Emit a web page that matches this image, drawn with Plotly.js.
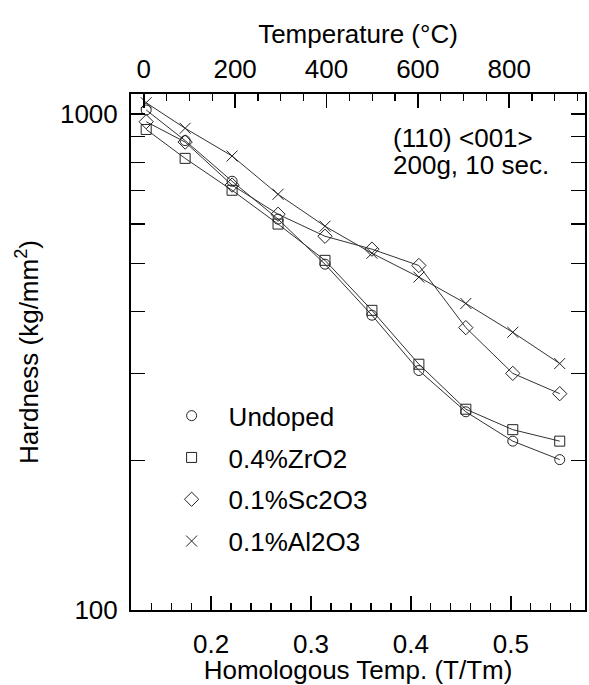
<!DOCTYPE html>
<html>
<head>
<meta charset="utf-8">
<script src="https://cdn.plot.ly/plotly-3.0.1.min.js"></script>
<style>html,body{margin:0;padding:0;background:#fff;}#chart{width:589px;height:685px;}</style>
</head>
<body>
<div id="chart"></div>
<script>
// Homologous temperature (T/Tm) of each measurement
const homologousTemp = [0.135, 0.174, 0.221, 0.267, 0.314, 0.361, 0.408, 0.455, 0.502, 0.549];
// Hardness (kg/mm^2)
const undoped = [1019, 884, 732, 614, 498, 393, 304, 251, 219, 201];
const zro2    = [931, 814, 702, 600, 507, 402, 313, 254, 231, 219];
const sc2o3   = [965, 878, 719, 628, 567, 534, 495, 371, 300, 273];
const al2o3   = [1054, 936, 823, 689, 594, 524, 469, 415, 363, 314];
const seriesNames = ["Undoped", "0.4%ZrO2", "0.1%Sc2O3", "0.1%Al2O3"];
// Axis ticks
const topTempTicks = [0, 200, 400, 600, 800];
const yMajorTicks = [100, 1000];
const yMinorTicks = [200, 300, 400, 500, 600, 700, 800, 900];

const FONT = "Liberation Sans, Arial, Helvetica, sans-serif";
const seriesData = [undoped, zro2, sc2o3, al2o3];
const symbols = ["circle-open", "square-open", "diamond-open", "x-thin-open"];
const sizes = [10, 10, 11, 11];

const traces = [];
// connecting lines (not in legend)
seriesData.forEach((ys, i) => {
  traces.push({
    type: "scatter", mode: "lines", x: homologousTemp, y: ys,
    line: {color: "#333", width: 1}, showlegend: false, hoverinfo: "skip"
  });
});
// markers (in legend)
seriesData.forEach((ys, i) => {
  traces.push({
    type: "scatter", mode: "markers", name: seriesNames[i], legendgroup: "g" + i,
    x: homologousTemp, y: ys,
    marker: {symbol: symbols[i], size: sizes[i], color: "#222", line: {color: "#222", width: 1}},
    cliponaxis: false
  });
});
// empty trace to attach the top temperature axis
traces.push({type: "scatter", x: [], y: [], xaxis: "x2", yaxis: "y", showlegend: false, hoverinfo: "skip"});

const layout = {
  width: 589, height: 685,
  margin: {l: 130.5, r: 4, t: 94, b: 75},
  paper_bgcolor: "#fff", plot_bgcolor: "#fff",
  font: {family: FONT, size: 26, color: "#000"},
  showlegend: true,
  legend: {
    x: 0.052, y: 0.422, xanchor: "left", yanchor: "top",
    bgcolor: "rgba(0,0,0,0)", borderwidth: 0,
    font: {family: FONT, size: 26, color: "#000"},
    itemwidth: 64, tracegroupgap: 5, traceorder: "grouped"
  },
  xaxis: {
    range: [0.1198, 0.5743],
    dtick: 0.1, tick0: 0,
    ticks: "inside", ticklen: 14, tickwidth: 1.5, tickcolor: "#000",
    minor: {dtick: 0.02, tick0: 0, ticks: "inside", ticklen: 7, tickwidth: 1.2, tickcolor: "#000"},
    showline: true, linecolor: "#000", linewidth: 2,
    showgrid: false, zeroline: false,
    ticklabelstandoff: 10,
    tickfont: {family: FONT, size: 26, color: "#000"},
    title: {text: "Homologous Temp. (T/Tm)", font: {family: FONT, size: 26, color: "#000"}, standoff: 4}
  },
  xaxis2: {
    overlaying: "x", side: "top", anchor: "y",
    range: [-28, 966],
    tickmode: "array", tickvals: topTempTicks, ticktext: topTempTicks.map(String),
    ticks: "inside", ticklen: 14, tickwidth: 1.5, tickcolor: "#000",
    minor: {dtick: 50, tick0: 0, ticks: "inside", ticklen: 7, tickwidth: 1.2, tickcolor: "#000"},
    showline: true, linecolor: "#000", linewidth: 2,
    showgrid: false, zeroline: false,
    ticklabelstandoff: 4,
    tickfont: {family: FONT, size: 26, color: "#000"},
    title: {text: "Temperature (°C)", font: {family: FONT, size: 26, color: "#000"}, standoff: 2}
  },
  yaxis: {
    type: "log", range: [2, 3.0404],
    tickmode: "array", tickvals: yMajorTicks, ticktext: yMajorTicks.map(String),
    ticks: "inside", ticklen: 14, tickwidth: 1.5, tickcolor: "#000",
    minor: {tickmode: "array", tickvals: yMinorTicks, ticks: "inside", ticklen: 8, tickwidth: 1.2, tickcolor: "#000"},
    showline: true, linecolor: "#000", linewidth: 2, mirror: "allticks",
    showgrid: false, zeroline: false,
    ticklabelstandoff: 6,
    tickfont: {family: FONT, size: 26, color: "#000"},
    title: {text: "Hardness (kg/mm<sup>2</sup>)", font: {family: FONT, size: 26, color: "#000"}, standoff: 14}
  },
  annotations: [
    {xref: "paper", yref: "paper", x: 0.572, y: 0.915, xanchor: "left", yanchor: "middle",
     text: "(110) &lt;001&gt;", showarrow: false, font: {family: FONT, size: 26, color: "#000"}},
    {xref: "paper", yref: "paper", x: 0.572, y: 0.862, xanchor: "left", yanchor: "middle",
     text: "200g, 10 sec.", showarrow: false, font: {family: FONT, size: 26, color: "#000"}}
  ]
};

Plotly.newPlot("chart", traces, layout, {staticPlot: true, displayModeBar: false});
</script>
</body>
</html>
